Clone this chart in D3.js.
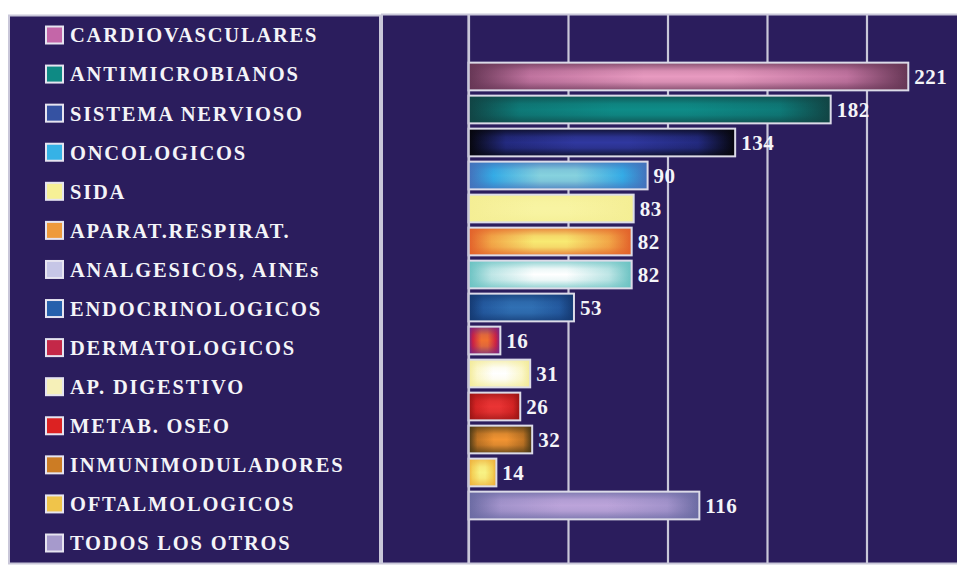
<!DOCTYPE html>
<html>
<head>
<meta charset="utf-8">
<script src="https://cdn.jsdelivr.net/npm/d3@7"></script>
<style>
  html, body { margin: 0; padding: 0; background: #ffffff; }
  svg { display: block; }
</style>
</head>
<body>
<svg id="chart" width="957" height="565"></svg>
<script>
// Prescription counts by therapeutic group
const categories = [
  "CARDIOVASCULARES", "ANTIMICROBIANOS", "SISTEMA NERVIOSO", "ONCOLOGICOS",
  "SIDA", "APARAT.RESPIRAT.", "ANALGESICOS, AINEs", "ENDOCRINOLOGICOS",
  "DERMATOLOGICOS", "AP. DIGESTIVO", "METAB. OSEO", "INMUNIMODULADORES",
  "OFTALMOLOGICOS", "TODOS LOS OTROS"
];
const values = [221, 182, 134, 90, 83, 82, 82, 53, 16, 31, 26, 32, 14, 116];
const xTicks = [0, 50, 100, 150, 200, 250];

// Bar shading: edge colour -> centre colour (path-style gradient)
const barEdge   = ["#663655", "#114444", "#06060c", "#4470ba", "#f4ee94", "#e2602a", "#6ac2c2",
                   "#143870", "#6a2a8c", "#f2ea98", "#961414", "#443616", "#eeac3a", "#6a6aa2"];
const barMid    = ["#c174a0", "#0e7a78", "#232a80", "#34ace6", "#f6f09a", "#f2a848", "#bfe6e6",
                   "#245aa0", "#d02040", "#fbf7cc", "#d42424", "#c07424", "#f4d258", "#a494cc"];
const barCenter = ["#e89ac0", "#0e8c88", "#3038a0", "#86d2de", "#f8f4a2", "#f8ea72", "#ffffff",
                   "#3070b4", "#f07030", "#ffffff", "#ea3434", "#f29432", "#f8f284", "#bca4da"];
const swatchColors = ["#c466a8", "#0e8a84", "#3552a2", "#36b2e6", "#f6f096", "#ee9a3c", "#c6c6e6",
                      "#2660ac", "#c42848", "#f6f0b8", "#dc2222", "#cc7c24", "#f0c44a", "#a69acc"];

const W = 957, H = 565;
const navy = "#2b1d5d";
const frame = "#c9c7d9";

const svg = d3.select("#chart");
const defs = svg.append("defs");

// Frames
svg.append("rect").attr("x", 0).attr("y", 0).attr("width", W).attr("height", H).attr("fill", "#ffffff");
svg.append("rect").attr("x", 9).attr("y", 15.5).attr("width", 371).attr("height", 548)
  .attr("fill", navy).attr("stroke", frame).attr("stroke-width", 2);
svg.append("rect").attr("x", 382).attr("y", 14.5).attr("width", 585).attr("height", 549)
  .attr("fill", navy).attr("stroke", frame).attr("stroke-width", 2);

// Scales
const x = d3.scaleLinear().domain([0, 250]).range([468.5, 468.5 + 250 * 1.99]);
const y = d3.scaleBand().domain(categories).range([60, 522]).paddingInner(0.16).paddingOuter(0.08);

// Vertical grid lines
const grid = svg.append("g")
  .attr("transform", `translate(0,${H - 2})`)
  .call(d3.axisBottom(x).tickValues(xTicks).tickSize(-(H - 2 - 15)).tickFormat(""));
grid.select(".domain").remove();
grid.selectAll(".tick line").attr("stroke", frame).attr("stroke-width", 2.2);

// Gradients
categories.forEach((c, i) => {
  const gh = defs.append("linearGradient").attr("id", "gh" + i)
    .attr("x1", 0).attr("x2", 1).attr("y1", 0).attr("y2", 0);
  [[0, barEdge[i]], [0.14, barMid[i]], [0.4, barCenter[i]], [0.6, barCenter[i]], [0.86, barMid[i]], [1, barEdge[i]]]
    .forEach(([o, col]) => gh.append("stop").attr("offset", o).attr("stop-color", col));
  const gv = defs.append("linearGradient").attr("id", "gv" + i)
    .attr("x1", 0).attr("x2", 0).attr("y1", 0).attr("y2", 1);
  [[0, 0.75], [0.3, 0.12], [0.5, 0], [0.7, 0.12], [1, 0.75]]
    .forEach(([o, a]) => gv.append("stop").attr("offset", o).attr("stop-color", barEdge[i]).attr("stop-opacity", a));
});

// Bars
const bars = svg.append("g").selectAll("g").data(categories).join("g");
bars.append("rect")
  .attr("x", x(0))
  .attr("y", d => y(d))
  .attr("width", (d, i) => x(values[i]) - x(0))
  .attr("height", y.bandwidth())
  .attr("fill", (d, i) => `url(#gh${i})`);
bars.append("rect")
  .attr("x", x(0))
  .attr("y", d => y(d))
  .attr("width", (d, i) => x(values[i]) - x(0))
  .attr("height", y.bandwidth())
  .attr("fill", (d, i) => `url(#gv${i})`)
  .attr("stroke", "#dcdbe8")
  .attr("stroke-width", 2);

// Value labels
bars.append("text")
  .attr("x", (d, i) => x(values[i]) + 6)
  .attr("y", d => y(d) + y.bandwidth() / 2)
  .attr("dy", "0.35em")
  .attr("fill", "#f4f4f8")
  .attr("font-family", "'Liberation Serif', 'Times New Roman', serif")
  .attr("font-weight", "bold")
  .attr("font-size", 21)
  .attr("letter-spacing", 0.5)
  .text((d, i) => values[i]);

// Axis line at zero
svg.append("line").attr("x1", x(0)).attr("x2", x(0)).attr("y1", 15).attr("y2", H - 2)
  .attr("stroke", frame).attr("stroke-width", 2.2);

// Legend
const ly = d3.scalePoint().domain(categories).range([35, 543]);
const legend = svg.append("g").selectAll("g").data(categories).join("g")
  .attr("transform", d => `translate(46,${ly(d)})`);
legend.append("rect")
  .attr("x", 0).attr("y", -8.5).attr("width", 17).attr("height", 17)
  .attr("fill", (d, i) => swatchColors[i])
  .attr("stroke", "#e6e4f0").attr("stroke-width", 2);
legend.append("text")
  .attr("x", 24)
  .attr("y", 0)
  .attr("dy", "0.36em")
  .attr("fill", "#f4f4f8")
  .attr("font-family", "'Liberation Serif', 'Times New Roman', serif")
  .attr("font-weight", "bold")
  .attr("font-size", 20.5)
  .attr("letter-spacing", 1.8)
  .text(d => d);
</script>
</body>
</html>
